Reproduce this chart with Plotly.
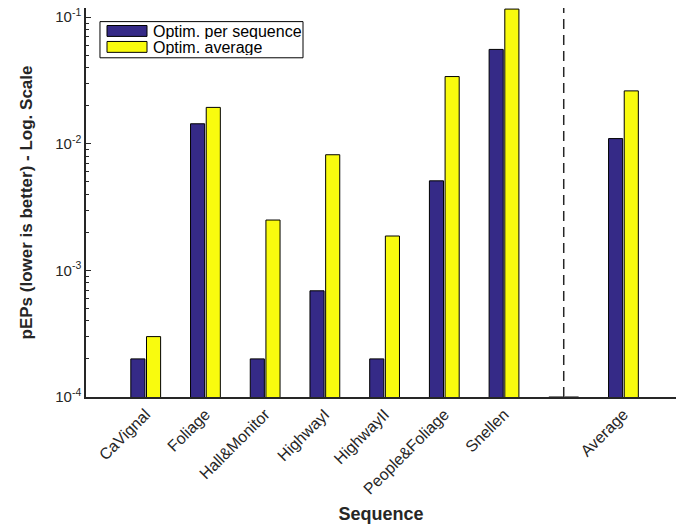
import plotly.graph_objects as go

categories = ["CaVignal", "Foliage", "Hall&Monitor", "HighwayI", "HighwayII",
              "People&Foliage", "Snellen", "", "Average"]
per_sequence = [0.0002, 0.0144, 0.0002, 0.00069, 0.0002, 0.0051, 0.0557, 0.0001, 0.0110]
average_opt = [0.0003, 0.0194, 0.0025, 0.0082, 0.00187, 0.0340, 0.1160, 0.0001, 0.0262]
series_names = ["Optim. per sequence", "Optim. average"]
separator_index = 7

y_major = [1e-4, 1e-3, 1e-2, 1e-1]
y_major_text = ["10<sup>-4</sup>", "10<sup>-3</sup>", "10<sup>-2</sup>", "10<sup>-1</sup>"]
y_minor = [m * d for d in (1e-4, 1e-3, 1e-2) for m in range(2, 10)]

x = list(range(len(categories)))

BLUE = "#352A87"
YELLOW = "#F9FB0E"
AX = "#262626"
FONT = "Liberation Sans, Arial, sans-serif"

fig = go.Figure()
fig.add_trace(go.Bar(x=x, y=per_sequence, name=series_names[0], showlegend=False,
                     marker=dict(color=BLUE, line=dict(color="black", width=1))))
fig.add_trace(go.Bar(x=x, y=average_opt, name=series_names[1], showlegend=False,
                     marker=dict(color=YELLOW, line=dict(color="black", width=1))))

fig.add_shape(type="line", xref="x", yref="paper", x0=separator_index, x1=separator_index,
              y0=0, y1=1, line=dict(color=AX, width=1.5, dash="10px,6px"))

# legend box (drawn like the MATLAB legend, with wide swatches)
fig.add_shape(type="rect", xref="paper", yref="paper", x0=0.0237, x1=0.3678, y0=0.872, y1=0.965,
              line=dict(color="black", width=1), fillcolor="white", layer="above")
for (y0, y1, col) in [(0.927, 0.955, BLUE), (0.886, 0.914, YELLOW)]:
    fig.add_shape(type="rect", xref="paper", yref="paper", x0=0.0356, x1=0.1034, y0=y0, y1=y1,
                  line=dict(color="black", width=1), fillcolor=col, layer="above")
for name, yc in zip(series_names, [0.9415, 0.900]):
    fig.add_annotation(text=name, xref="paper", yref="paper", x=0.110, y=yc,
                       xanchor="left", yanchor="middle", showarrow=False, height=16,
                       font=dict(family=FONT, size=16, color="black"))

fig.update_layout(
    width=676, height=524,
    margin=dict(l=86, r=0, t=8, b=127),
    paper_bgcolor="white", plot_bgcolor="white",
    font=dict(family=FONT, size=15, color=AX),
    barmode="group", bargap=0.475, bargroupgap=0.1,
    showlegend=False,
)
fig.update_xaxes(
    range=[-1, 8.88], tickmode="array", tickvals=x, ticktext=categories,
    tickangle=-45, ticks="", showline=True, linecolor=AX, linewidth=1.5,
    showgrid=False, zeroline=False, tickfont=dict(size=16, color=AX), automargin=False,
    title=dict(text="<b>Sequence</b>", font=dict(size=18, color=AX), standoff=24),
)
fig.update_yaxes(
    type="log", range=[-4, -0.927], tickmode="array", tickvals=y_major, ticktext=y_major_text,
    ticks="inside", ticklen=5, tickcolor=AX, tickwidth=1,
    minor=dict(tickmode="array", tickvals=y_minor, ticks="inside", ticklen=3, tickcolor=AX),
    showline=True, linecolor=AX, linewidth=1.5, showgrid=False, zeroline=False,
    tickfont=dict(size=15, color=AX), automargin=False,
    title=dict(text="<b>pEPs (lower is better) - Log. Scale</b>", font=dict(size=17, color=AX), standoff=18),
)

fig.write_html("out.html", config={"displayModeBar": False},
               post_script="document.body.style.margin='0';document.body.style.overflow='hidden';")
